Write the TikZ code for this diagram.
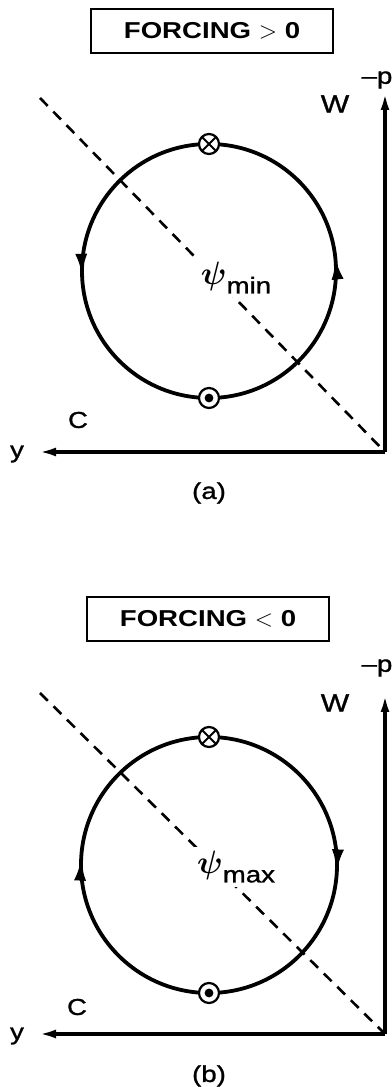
\documentclass[tikz,border=0pt]{standalone}
\usepackage{amsmath}
\usepackage{fontspec}
\setmainfont{Liberation Sans}[FakeStretch=1.2]
\newfontfamily\lblfont{Liberation Sans}[FakeStretch=1.2, FakeBold=1.2, Ligatures=TeX]
\usetikzlibrary{arrows.meta,decorations.markings}

\tikzset{
  axis/.style={line width=1.7pt, -{Latex[length=9pt,width=4.4pt]}},
  orbit/.style={line width=1.9pt},
  trough/.style={line width=1.3pt, dash pattern=on 5.5pt off 4pt},
  lbl/.style={inner sep=1pt, font=\lblfont\fontsize{11.5}{13}\selectfont},
  forcingbox/.style={draw, line width=1.1pt, minimum width=121pt, minimum height=22pt,
    inner sep=2pt, font=\fontsize{11.5}{13}\selectfont\bfseries},
  marker/.style={circle, draw, fill=white, line width=1.1pt, minimum size=10pt, inner sep=0pt},
  intomark/.style={marker, path picture={
      \draw[black, line width=0.9pt] (path picture bounding box.north west) -- (path picture bounding box.south east)
        (path picture bounding box.north east) -- (path picture bounding box.south west);}},
  outmark/.style={marker, path picture={\fill[black] (path picture bounding box.center) circle (2.2pt);}},
  ccw/.style={postaction={decorate}, decoration={markings,
      mark=at position 0.017 with {\arrow{Latex[length=11pt,width=6pt]}},
      mark=at position 0.506 with {\arrow{Latex[length=11pt,width=6pt]}}}},
  cw/.style={postaction={decorate}, decoration={markings,
      mark=at position 0.492 with {\arrowreversed{Latex[length=11pt,width=6pt]}},
      mark=at position 0.992 with {\arrowreversed{Latex[length=11pt,width=6pt]}}}},
  psilbl/.style={lbl, fill=white, inner sep=2pt}
}

\begin{document}
\begin{tikzpicture}[x=0.5pt, y=0.5pt]
\useasboundingbox (0,0) rectangle (391,1087);

% (a) positive forcing
\begin{scope}
  \coordinate (oA) at (385,635);
  \coordinate (pA) at (385,995);
  \coordinate (yA) at (38,635);
  \coordinate (dA) at (40,989);
  \coordinate (cA) at (209,816);
  \node[forcingbox] (boxA) at (212,1056) {FORCING $>$ 0};
  \draw[trough] (dA) -- (oA);
  \draw[axis] (oA) -- (pA);
  \draw[axis] (oA) -- (yA);
  \draw[orbit, ccw] (cA) circle[radius=127];
  \node[intomark] (topA) at (209,943) {};
  \node[outmark] (botA) at (209,689) {};
  \node[psilbl] (psiA) at (236,809) {\scalebox{1.35}{$\boldsymbol{\psi}$}\raisebox{-0.7ex}{min}};
  \node[lbl] (minuspA) at (377,1007) {\textendash p};
  \node[lbl, font=\lblfont\fontsize{12.5}{13}\selectfont] (wA) at (335,983) {W};
  \node[lbl] (ylabA) at (17,633) {y};
  \node[lbl] (clabA) at (78,667) {C};
  \node[lbl] (capA) at (209,594) {(a)};
\end{scope}

% (b) negative forcing
\begin{scope}
  \coordinate (oB) at (385,53);
  \coordinate (pB) at (385,393);
  \coordinate (yB) at (38,53);
  \coordinate (dB) at (40,394);
  \coordinate (cB) at (209,222);
  \node[forcingbox] (boxB) at (208,468) {FORCING $<$ 0};
  \draw[trough] (dB) -- (oB);
  \draw[axis] (oB) -- (pB);
  \draw[axis] (oB) -- (yB);
  \draw[orbit, cw] (cB) circle[radius=128];
  \node[intomark] (topB) at (209,350) {};
  \node[outmark] (botB) at (209,94) {};
  \node[psilbl] (psiB) at (236,220) {\scalebox{1.35}{$\boldsymbol{\psi}$}\raisebox{-0.7ex}{max}};
  \node[lbl] (minuspB) at (377,419) {\textendash p};
  \node[lbl, font=\lblfont\fontsize{12.5}{13}\selectfont] (wB) at (335,384) {W};
  \node[lbl] (ylabB) at (17,51) {y};
  \node[lbl] (clabB) at (77,80) {C};
  \node[lbl] (capB) at (209,11) {(b)};
\end{scope}

\end{tikzpicture}
\end{document}
